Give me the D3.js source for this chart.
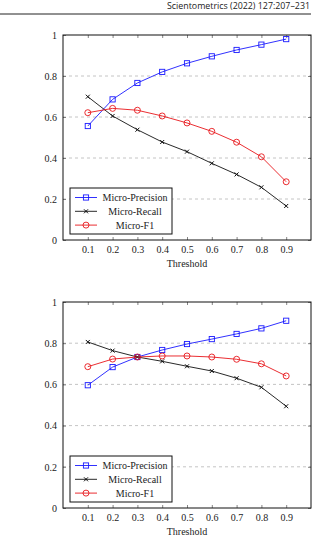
<!DOCTYPE html>
<html>
<head>
<meta charset="utf-8">
<script src="https://cdn.jsdelivr.net/npm/d3@7"></script>
<style>
  body { margin: 0; background: #fff; }
</style>
</head>
<body>
<div id="chart"></div>
<script>
const thresholds = [0.1, 0.2, 0.3, 0.4, 0.5, 0.6, 0.7, 0.8, 0.9];
const yTicks = [0, 0.2, 0.4, 0.6, 0.8, 1];

// top panel
const precisionA = [0.556, 0.686, 0.766, 0.82, 0.862, 0.896, 0.927, 0.953, 0.98];
const recallA = [0.699, 0.605, 0.538, 0.478, 0.431, 0.374, 0.32, 0.257, 0.166];
const f1A = [0.621, 0.642, 0.633, 0.605, 0.571, 0.53, 0.477, 0.406, 0.284];

// bottom panel
const precisionB = [0.596, 0.684, 0.733, 0.767, 0.796, 0.82, 0.845, 0.872, 0.909];
const recallB = [0.806, 0.764, 0.733, 0.712, 0.688, 0.665, 0.63, 0.586, 0.494];
const f1B = [0.686, 0.723, 0.733, 0.738, 0.738, 0.733, 0.722, 0.70, 0.641];

const seriesNames = ['Micro-Precision', 'Micro-Recall', 'Micro-F1'];
const seriesColors = ['#1a1aff', '#111', '#e8161b'];
const seriesMarks = ['square', 'cross', 'circle'];

const width = 328, height = 555;
const svg = d3.select('#chart').append('svg').attr('width', width).attr('height', height);

// journal header
svg.append('text').attr('x', 167).attr('y', 9)
  .attr('textLength', 143).attr('lengthAdjust', 'spacingAndGlyphs')
  .attr('font-family', 'Open Sans, DejaVu Sans, sans-serif').attr('font-size', '9px').attr('fill', '#222')
  .text('Scientometrics (2022) 127:207–231');
svg.append('line').attr('x1', 0).attr('x2', 311).attr('y1', 14).attr('y2', 14)
  .attr('stroke', '#222').attr('stroke-width', 1);

function drawMarker(g, kind, cx, cy, color) {
  if (kind === 'square') {
    g.append('rect').attr('x', cx - 2.6).attr('y', cy - 2.6).attr('width', 5.2).attr('height', 5.2)
      .attr('fill', 'none').attr('stroke', color).attr('stroke-width', 0.9);
  } else if (kind === 'circle') {
    g.append('circle').attr('cx', cx).attr('cy', cy).attr('r', 3)
      .attr('fill', 'none').attr('stroke', color).attr('stroke-width', 0.9);
  } else {
    g.append('path').attr('d', `M${cx - 2},${cy - 2}L${cx + 2},${cy + 2}M${cx - 2},${cy + 2}L${cx + 2},${cy - 2}`)
      .attr('stroke', color).attr('stroke-width', 1);
  }
}

function drawPanel(top, bottom, series) {
  const left = 63, right = 311;
  const x = d3.scaleLinear().domain([0, 1]).range([left, right]);
  const y = d3.scaleLinear().domain([0, 1]).range([bottom, top]);
  const g = svg.append('g');
  const serif = 'Liberation Serif, Times New Roman, serif';

  // grid
  g.selectAll('.grid').data(yTicks.filter(d => d > 0 && d < 1)).enter().append('line')
    .attr('x1', left).attr('x2', right).attr('y1', d => y(d)).attr('y2', d => y(d))
    .attr('stroke', '#b5b5b5').attr('stroke-width', 0.8).attr('stroke-dasharray', '3,3');

  // axes (ticks inside)
  const xb = g.append('g').attr('transform', `translate(0,${bottom})`)
    .call(d3.axisBottom(x).tickValues(thresholds).tickSize(-3).tickPadding(6).tickFormat(d3.format('.1f')));
  const xt = g.append('g').attr('transform', `translate(0,${top})`)
    .call(d3.axisTop(x).tickValues(thresholds).tickSize(-3).tickFormat(''));
  const yl = g.append('g').attr('transform', `translate(${left},0)`)
    .call(d3.axisLeft(y).tickValues(yTicks).tickSize(-3).tickPadding(6).tickFormat(d => d === 0 || d === 1 ? d : d3.format('.1f')(d)));
  const yr = g.append('g').attr('transform', `translate(${right},0)`)
    .call(d3.axisRight(y).tickValues(yTicks).tickSize(-3).tickFormat(''));
  [xb, xt, yl, yr].forEach(a => {
    a.select('.domain').remove();
    a.selectAll('line').attr('stroke', '#666').attr('stroke-width', 0.8);
    a.selectAll('text').attr('font-family', serif).attr('font-size', '10px').attr('fill', '#222');
  });
  g.append('rect').attr('x', left).attr('y', top).attr('width', right - left).attr('height', bottom - top)
    .attr('fill', 'none').attr('stroke', '#111').attr('stroke-width', 1);

  g.append('text').attr('x', x(0.5)).attr('y', bottom + 27).attr('text-anchor', 'middle')
    .attr('font-family', serif).attr('font-size', '10px').attr('fill', '#222').text('Threshold');

  // lines + markers
  const line = d3.line().x((d, i) => x(thresholds[i])).y(d => y(d));
  series.forEach((vals, k) => {
    g.append('path').datum(vals).attr('d', line).attr('fill', 'none')
      .attr('stroke', seriesColors[k]).attr('stroke-width', 0.9);
    vals.forEach((v, i) => drawMarker(g, seriesMarks[k], x(thresholds[i]), y(v), seriesColors[k]));
  });

  // legend
  const lx = 70, ly = bottom - 52;
  g.append('rect').attr('x', lx).attr('y', ly).attr('width', 102).attr('height', 46)
    .attr('fill', '#fff').attr('stroke', '#111').attr('stroke-width', 1);
  seriesNames.forEach((name, k) => {
    const ry = ly + 9.5 + k * 13.8;
    g.append('line').attr('x1', lx + 5).attr('x2', lx + 27).attr('y1', ry).attr('y2', ry)
      .attr('stroke', seriesColors[k]).attr('stroke-width', 0.9);
    drawMarker(g, seriesMarks[k], lx + 16, ry, seriesColors[k]);
    g.append('text').attr('x', lx + 65).attr('y', ry + 3.5).attr('text-anchor', 'middle')
      .attr('font-family', serif).attr('font-size', '10px').attr('fill', '#222').text(name);
  });
}

drawPanel(35, 240, [precisionA, recallA, f1A]);
drawPanel(302, 508, [precisionB, recallB, f1B]);
</script>
</body>
</html>
